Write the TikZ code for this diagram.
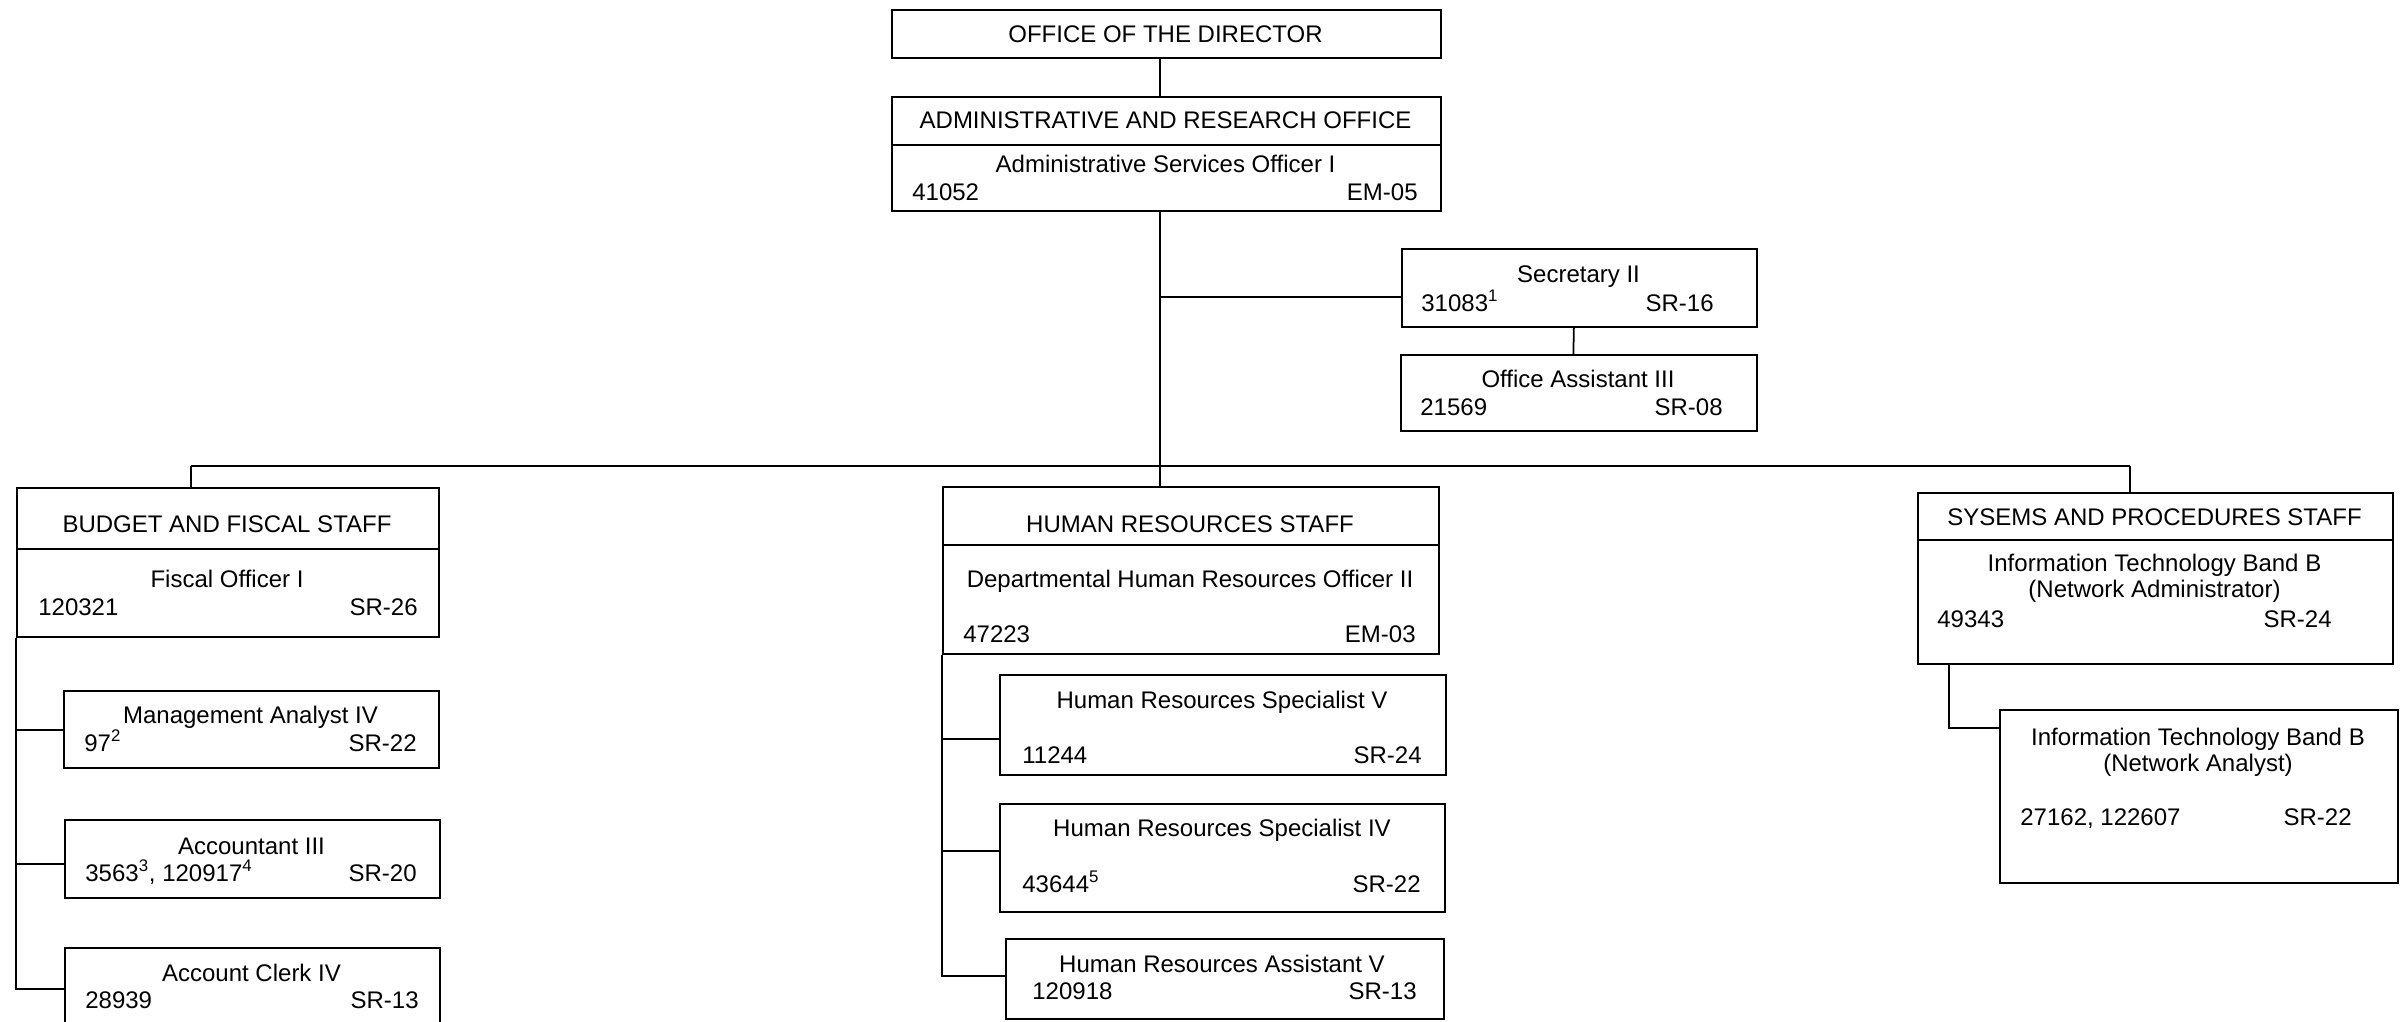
\documentclass[tikz,border=0pt]{standalone}
\usepackage{fontspec}
\setmainfont{Liberation Sans}
\usepackage{tikz}
\tikzset{
    box/.style = {rectangle, draw=black, line width=0.35mm, anchor=north west, inner sep=0pt},
}
\begin{document}
\begin{tikzpicture}[
	x=0.2mm, y=-0.2mm,
	font=\fontsize{13.66pt}{16pt}\selectfont
]
\tikzset{
    lbl/.style = {inner sep=0pt, anchor=base},
    lbll/.style = {inner sep=0pt, anchor=base west},
    lblr/.style = {inner sep=0pt, anchor=base east},
    edgen/.style = {-, line width=0.35mm},
}
\useasboundingbox (0,0) rectangle (2403,1021);
% top
\node[box, minimum width=109.8mm, minimum height=9.6mm] (dir) at (891,9) {};
\node[box, minimum width=109.8mm, minimum height=9.6mm] (admH) at (891,96) {};
\node[box, minimum width=109.8mm, minimum height=13.2mm] (adm) at (891,144) {};
\node[box, minimum width=71mm, minimum height=15.6mm] (sec) at (1401,248) {};
\node[box, minimum width=71.2mm, minimum height=15.2mm] (oa) at (1400,354) {};
%
\node[lbl] (dirT) at (1165.5,42) {OFFICE OF THE DIRECTOR};
\node[lbl] (admHT) at (1165.5,128) {ADMINISTRATIVE AND RESEARCH OFFICE};
\node[lbl] (admT) at (1165.5,172) {Administrative Services Officer I};
\node[lbll] (admN) at (912,200) {41052};
\node[lblr] (admG) at (1418,200) {EM-05};
\node[lbl] (secT) at (1578.5,282) {Secretary II};
\node[lbll] (secN) at (1421,311) {31083\textsuperscript{1}};
\node[lblr] (secG) at (1714,311) {SR-16};
\node[lbl] (oaT) at (1578,387) {Office Assistant III};
\node[lbll] (oaN) at (1420,415) {21569};
\node[lblr] (oaG) at (1723,415) {SR-08};
% budget
\node[box, minimum width=84.4mm, minimum height=12.2mm] (budH) at (16,487) {};
\node[box, minimum width=84.4mm, minimum height=17.6mm] (bud) at (16,548) {};
\node[box, minimum width=75mm, minimum height=15.4mm] (ma) at (63,690) {};
\node[box, minimum width=75mm, minimum height=15.6mm] (acc) at (64,819) {};
\node[box, minimum width=75mm, minimum height=16.4mm] (clerk) at (64,947) {};
%
\node[lbl] (budHT) at (227,532) {BUDGET AND FISCAL STAFF};
\node[lbl] (budT) at (227,587) {Fiscal Officer I};
\node[lbll] (budN) at (38,615) {120321};
\node[lblr] (budG) at (418,615) {SR-26};
\node[lbl] (maT) at (250.5,723) {Management Analyst IV};
\node[lbll] (maN) at (84,751) {97\textsuperscript{2}};
\node[lblr] (maG) at (417,751) {SR-22};
\node[lbl] (accT) at (251.5,854) {Accountant III};
\node[lbll] (accN) at (85,881) {3563\textsuperscript{3}, 120917\textsuperscript{4}};
\node[lblr] (accG) at (417,881) {SR-20};
\node[lbl] (clerkT) at (251.5,981) {Account Clerk IV};
\node[lbll] (clerkN) at (85,1008) {28939};
\node[lblr] (clerkG) at (419,1008) {SR-13};
% human resources
\node[box, minimum width=99.2mm, minimum height=11.6mm] (hrH) at (942,486) {};
\node[box, minimum width=99.2mm, minimum height=21.8mm] (hr) at (942,544) {};
\node[box, minimum width=89.2mm, minimum height=20mm] (hs5) at (999,674) {};
\node[box, minimum width=89mm, minimum height=21.6mm] (hs4) at (999,803) {};
\node[box, minimum width=87.6mm, minimum height=16mm] (ha5) at (1005,938) {};
%
\node[lbl] (hrHT) at (1190,532) {HUMAN RESOURCES STAFF};
\node[lbl] (hrT) at (1190,587) {Departmental Human Resources Officer II};
\node[lbll] (hrN) at (963,642) {47223};
\node[lblr] (hrG) at (1416,642) {EM-03};
\node[lbl] (hs5T) at (1222,708) {Human Resources Specialist V};
\node[lbll] (hs5N) at (1022,763) {11244};
\node[lblr] (hs5G) at (1422,763) {SR-24};
\node[lbl] (hs4T) at (1222,836) {Human Resources Specialist IV};
\node[lbll] (hs4N) at (1022,892) {43644\textsuperscript{5}};
\node[lblr] (hs4G) at (1421,892) {SR-22};
\node[lbl] (ha5T) at (1222,972) {Human Resources Assistant V};
\node[lbll] (ha5N) at (1032,999) {120918};
\node[lblr] (ha5G) at (1417,999) {SR-13};
% systems
\node[box, minimum width=95mm, minimum height=9.4mm] (sysH) at (1917,492) {};
\node[box, minimum width=95mm, minimum height=24.8mm] (sys) at (1917,539) {};
\node[box, minimum width=79.6mm, minimum height=34.6mm] (na) at (1999,709) {};
%
\node[lbl] (sysHT) at (2154.5,525) {SYSEMS AND PROCEDURES STAFF};
\node[lbl] (sysT) at (2154.5,571) {Information Technology Band B};
\node[lbl] (sysT2) at (2154.5,597) {(Network Administrator)};
\node[lbll] (sysN) at (1937,627) {49343};
\node[lblr] (sysG) at (2332,627) {SR-24};
\node[lbl] (naT) at (2198,745) {Information Technology Band B};
\node[lbl] (naT2) at (2198,771) {(Network Analyst)};
\node[lbll] (naN) at (2020,825) {27162, 122607};
\node[lblr] (naG) at (2352,825) {SR-22};
% lines
\coordinate (bus) at (1160,466);
\coordinate (secj) at (1160,297);
\coordinate (busL) at (191,466);
\coordinate (busR) at (2130,466);
\draw[edgen] (dir.south -| bus) -- (admH.north -| bus);
\draw[edgen] (adm.south -| bus) -- (hrH.north -| bus);
\draw[edgen] (secj) -- (secj -| sec.west);
\draw[edgen] ([xshift=-1.1mm]sec.south) -- ([xshift=-1.1mm]oa.north);
\draw[edgen] (busL) -- (busR);
\draw[edgen] (busL) -- (budH.north -| busL);
\draw[edgen] (busR) -- (sysH.north -| busR);
%
\draw[edgen] (bud.south west) |- ([yshift=-0.1mm]ma.west);
\draw[edgen] (bud.south west) |- ([yshift=-1mm]acc.west);
\draw[edgen] (bud.south west) |- (clerk.west);
\draw[edgen] (hr.south west) |- ([yshift=-2.8mm]hs5.west);
\draw[edgen] (hr.south west) |- ([yshift=1.4mm]hs4.west);
\draw[edgen] (hr.south west) |- ([yshift=0.6mm]ha5.west);
\draw[edgen] ([xshift=6.4mm]sys.south west) |- ([yshift=-3.8mm]na.north west);
\end{tikzpicture}
\end{document}
